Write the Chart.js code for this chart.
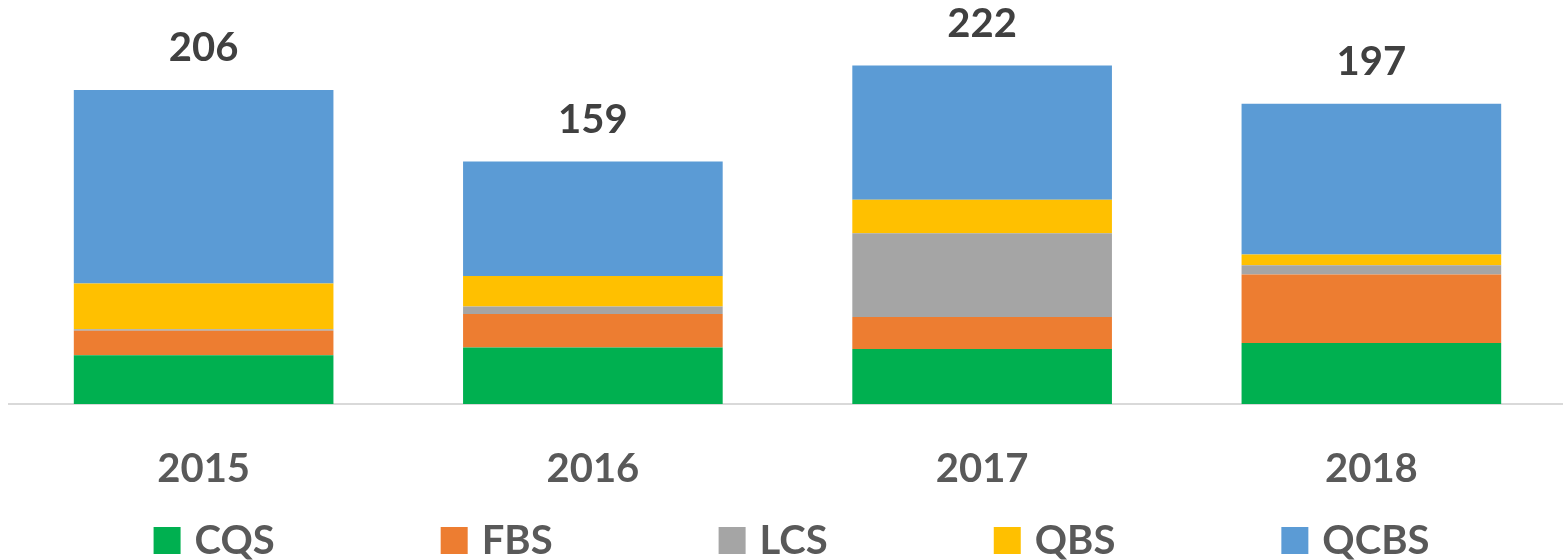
<!DOCTYPE html>
<html>
<head>
<meta charset="utf-8">
<script src="https://cdn.jsdelivr.net/npm/chart.js@4.4.1/dist/chart.umd.min.js"></script>
<style>
  html, body { margin: 0; padding: 0; background: #ffffff; overflow: hidden; }
  #wrap { width: 1566px; height: 560px; position: relative; }
</style>
</head>
<body>
<div id="wrap"><canvas id="c"></canvas></div>
<script>
const categories = ['2015', '2016', '2017', '2018'];
const cqs  = [32, 37, 36, 40];
const fbs  = [16, 22, 21, 45];
const lcs  = [1, 5, 55, 6];
const qbs  = [30, 20, 22, 7];
const qcbs = [127, 75, 88, 99];
const totals = [206, 159, 222, 197];
const seriesNames = ['CQS', 'FBS', 'LCS', 'QBS', 'QCBS'];
const seriesColors = ['#00B050', '#ED7D31', '#A5A5A5', '#FFC000', '#5B9BD5'];
const yMax = 265;

const FONT = 'Lato, "Open Sans", sans-serif';

const totalsPlugin = {
  id: 'totals',
  afterDatasetsDraw(chart) {
    const ctx = chart.ctx;
    const last = chart.getDatasetMeta(chart.data.datasets.length - 1);
    ctx.save();
    ctx.font = 'bold 40px ' + FONT;
    ctx.fillStyle = '#404040';
    ctx.textAlign = 'center';
    ctx.textBaseline = 'alphabetic';
    last.data.forEach((bar, i) => {
      ctx.fillText(String(totals[i]), bar.x, bar.y - 29);
    });
    ctx.restore();
  }
};

const legendPlugin = {
  id: 'customLegend',
  afterDraw(chart) {
    const ctx = chart.ctx;
    ctx.save();
    ctx.font = 'bold 40px ' + FONT;
    const box = 27, gapText = 14, gapItem = 166;
    const ds = chart.data.datasets;
    const widths = ds.map(d => box + gapText + ctx.measureText(d.label).width);
    const total = widths.reduce((a, b) => a + b, 0) + gapItem * (ds.length - 1);
    let x = (1583 - total) / 2;
    const yBox = 527;
    ds.forEach((d, i) => {
      ctx.fillStyle = d.backgroundColor;
      ctx.fillRect(x, yBox, box, box);
      ctx.fillStyle = '#595959';
      ctx.textAlign = 'left';
      ctx.textBaseline = 'alphabetic';
      ctx.fillText(d.label, x + box + gapText, yBox + box);
      x += widths[i] + gapItem;
    });
    ctx.restore();
  }
};

const seriesData = [cqs, fbs, lcs, qbs, qcbs];

new Chart(document.getElementById('c'), {
  type: 'bar',
  data: {
    labels: categories,
    datasets: seriesData.map((arr, i) => ({
      label: seriesNames[i],
      data: arr,
      backgroundColor: seriesColors[i],
      borderWidth: 0,
      categoryPercentage: 1.0,
      barPercentage: 0.667
    }))
  },
  options: {
    responsive: true,
    maintainAspectRatio: false,
    animation: false,
    layout: { padding: { left: 9, right: 0, top: 0, bottom: 0 } },
    plugins: {
      legend: { display: false },
      tooltip: { enabled: false }
    },
    scales: {
      x: {
        stacked: true,
        grid: { display: false, drawTicks: false },
        border: { display: true, color: '#D9D9D9', width: 2 },
        ticks: {
          font: { family: FONT, size: 40, weight: 'bold' },
          color: '#595959',
          padding: 41
        },
        afterFit(scale) { scale.height = 156; }
      },
      y: {
        stacked: true,
        display: false,
        min: 0,
        max: yMax
      }
    }
  },
  plugins: [totalsPlugin, legendPlugin]
});
</script>
</body>
</html>
